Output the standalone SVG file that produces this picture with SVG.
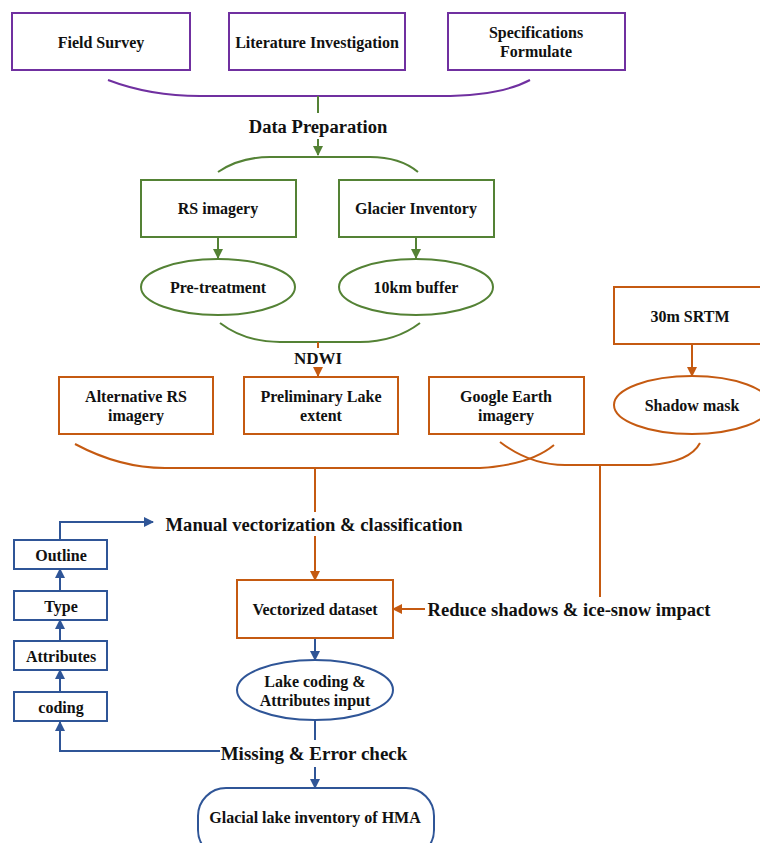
<svg xmlns="http://www.w3.org/2000/svg" width="760" height="843" viewBox="0 0 760 843">
<defs>
<style>
text{font-family:"Liberation Serif","Times New Roman",serif;font-weight:bold;fill:#111;text-anchor:middle;dominant-baseline:central}
.s{font-size:16px}
.m{font-size:18.6px}
.n{font-size:17px}
.l{font-size:19px}
.p{fill:#fff;stroke:#7030A0;stroke-width:2}
.g{fill:#fff;stroke:#548235;stroke-width:2}
.o{fill:#fff;stroke:#C55A11;stroke-width:2}
.b{fill:#fff;stroke:#2F5597;stroke-width:2}
.lp{fill:none;stroke:#7030A0;stroke-width:2}
.lg{fill:none;stroke:#548235;stroke-width:2}
.lo{fill:none;stroke:#C55A11;stroke-width:2}
.lb{fill:none;stroke:#2F5597;stroke-width:2}
</style>
<marker id="ag" viewBox="0 0 10 10" refX="9" refY="5" markerWidth="5" markerHeight="5" orient="auto"><path d="M0,0L10,5L0,10z" fill="#548235"/></marker>
<marker id="ao" viewBox="0 0 10 10" refX="9" refY="5" markerWidth="5" markerHeight="5" orient="auto"><path d="M0,0L10,5L0,10z" fill="#C55A11"/></marker>
<marker id="ab" viewBox="0 0 10 10" refX="9" refY="5" markerWidth="5" markerHeight="5" orient="auto"><path d="M0,0L10,5L0,10z" fill="#2F5597"/></marker>
</defs>
<rect width="760" height="843" fill="#fff"/>

<g id="connectors">
<path class="lp" d="M108,80 Q150,96 200,96 L440,96 Q500,96 530,80"/>
<path class="lg" d="M318,96 V113"/>
<path class="lg" d="M318,139 V155" marker-end="url(#ag)"/>
<path class="lg" d="M218,172 Q240,157 270,157 L370,157 Q400,157 418,172"/>
<path class="lg" d="M218,237 V258" marker-end="url(#ag)"/>
<path class="lg" d="M416,237 V258" marker-end="url(#ag)"/>
<path class="lg" d="M220,323 Q245,342 280,342 L360,342 Q395,342 420,323"/>
<path class="lo" d="M318,342 V348"/>
<path class="lo" d="M318,367 V376" marker-end="url(#ao)"/>
<path class="lo" d="M692,344 V376" marker-end="url(#ao)"/>
<path class="lo" d="M75,444 Q120,468 165,468 L480,468 Q530,465 554,445"/>
<path class="lo" d="M500,442 Q530,465 565,465 L650,465 Q690,462 700,443"/>
<path class="lo" d="M315,468 V512"/>
<path class="lo" d="M315,536 V580" marker-end="url(#ao)"/>
<path class="lo" d="M600,465 V597"/>
<path class="lo" d="M425,609 H393" marker-end="url(#ao)"/>
<path class="lb" d="M315,638 V660" marker-end="url(#ab)"/>
<path class="lb" d="M315,720 V740"/>
<path class="lb" d="M315,767 V788" marker-end="url(#ab)"/>
<path class="lb" d="M220,751 H60 V722" marker-end="url(#ab)"/>
<path class="lb" d="M60,692 V670" marker-end="url(#ab)"/>
<path class="lb" d="M60,641 V620" marker-end="url(#ab)"/>
<path class="lb" d="M60,591 V569" marker-end="url(#ab)"/>
<path class="lb" d="M60,540 V522 H153" marker-end="url(#ab)"/>
</g>

<g id="field-survey"><rect class="p" x="12" y="13" width="178" height="57"/><text class="s" x="101" y="42">Field Survey</text></g>
<g id="literature"><rect class="p" x="229" y="13" width="176" height="57"/><text class="s" x="317" y="42">Literature Investigation</text></g>
<g id="specifications"><rect class="p" x="448" y="13" width="177" height="57"/><text class="s" x="536" y="32">Specifications</text><text class="s" x="536" y="51">Formulate</text></g>

<g id="data-preparation"><text class="m" x="318" y="126">Data Preparation</text></g>

<g id="rs-imagery"><rect class="g" x="141" y="180" width="155" height="57"/><text class="s" x="218" y="208">RS imagery</text></g>
<g id="glacier-inventory"><rect class="g" x="339" y="180" width="155" height="57"/><text class="s" x="416" y="208">Glacier Inventory</text></g>
<g id="pre-treatment"><ellipse class="g" cx="218" cy="287" rx="77" ry="28"/><text class="s" x="218" y="287">Pre-treatment</text></g>
<g id="buffer"><ellipse class="g" cx="416" cy="287" rx="77" ry="28"/><text class="s" x="416" y="287">10km buffer</text></g>

<g id="ndwi"><text class="n" x="318" y="358">NDWI</text></g>

<g id="alternative-rs"><rect class="o" x="59" y="377" width="154" height="57"/><text class="s" x="136" y="396">Alternative RS</text><text class="s" x="136" y="415">imagery</text></g>
<g id="preliminary-lake"><rect class="o" x="244" y="377" width="154" height="57"/><text class="s" x="321" y="396">Preliminary Lake</text><text class="s" x="321" y="415">extent</text></g>
<g id="google-earth"><rect class="o" x="429" y="377" width="155" height="57"/><text class="s" x="506" y="396">Google Earth</text><text class="s" x="506" y="415">imagery</text></g>
<g id="srtm"><rect class="o" x="614" y="287" width="155" height="57"/><text class="s" x="690" y="316">30m SRTM</text></g>
<g id="shadow-mask"><ellipse class="o" cx="692" cy="405" rx="78" ry="29"/><text class="s" x="692" y="405">Shadow mask</text></g>

<g id="manual-vectorization"><text class="m" x="314" y="524">Manual vectorization &amp; classification</text></g>
<g id="vectorized-dataset"><rect class="o" x="237" y="580" width="156" height="58"/><text class="s" x="315" y="609">Vectorized dataset</text></g>
<g id="reduce-shadows"><text class="m" x="569" y="609">Reduce shadows &amp; ice-snow impact</text></g>

<g id="lake-coding"><ellipse class="b" cx="315" cy="690" rx="78" ry="30"/><text class="s" x="315" y="681">Lake coding &amp;</text><text class="s" x="315" y="700">Attributes input</text></g>
<g id="missing-check"><text class="l" x="314" y="753">Missing &amp; Error check</text></g>
<g id="glacial-lake-inventory"><rect class="b" x="198" y="788" width="236" height="70" rx="28"/><text class="s" x="315" y="817">Glacial lake inventory of HMA</text></g>

<g id="outline"><rect class="b" x="14" y="540" width="93" height="29"/><text class="s" x="61" y="555">Outline</text></g>
<g id="type"><rect class="b" x="14" y="591" width="93" height="29"/><text class="s" x="61" y="606">Type</text></g>
<g id="attributes"><rect class="b" x="14" y="641" width="93" height="29"/><text class="s" x="61" y="656">Attributes</text></g>
<g id="coding"><rect class="b" x="14" y="692" width="93" height="29"/><text class="s" x="61" y="707">coding</text></g>
</svg>
